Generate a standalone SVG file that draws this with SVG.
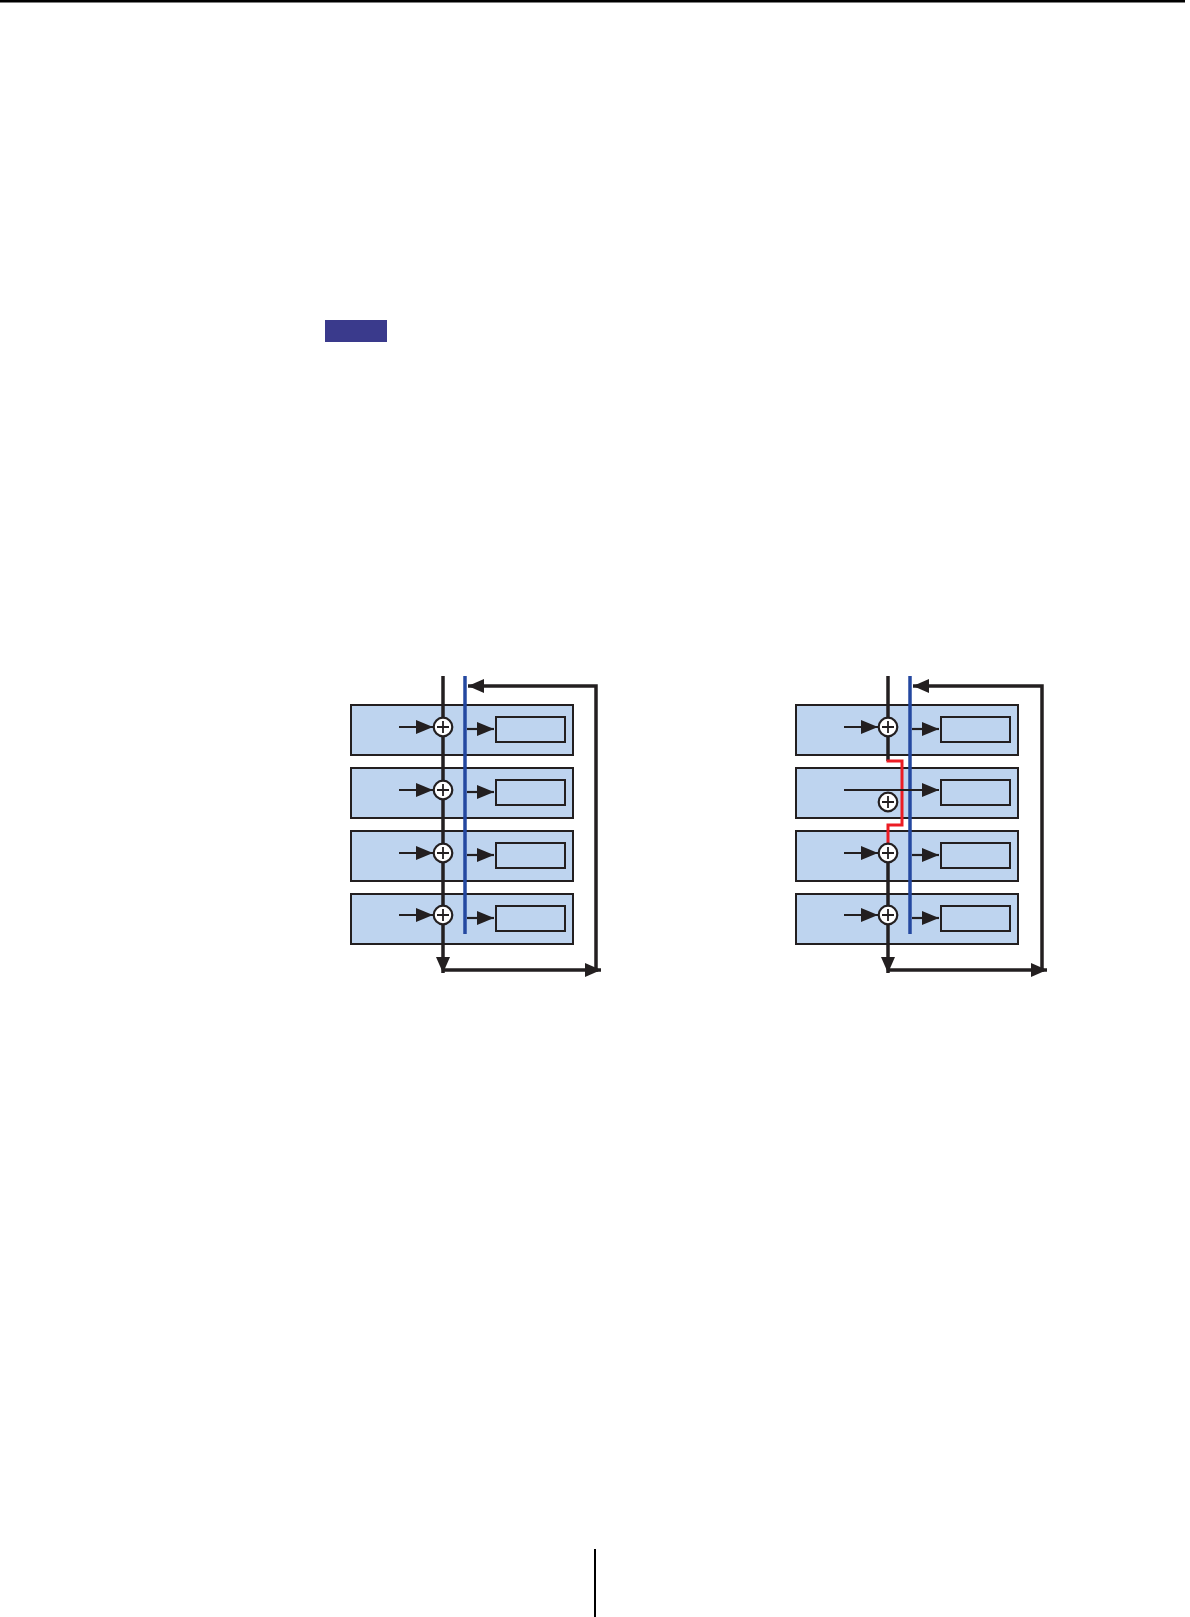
<svg xmlns="http://www.w3.org/2000/svg" width="1190" height="1617" viewBox="0 0 1190 1617">
<style>
.box{fill:#bed4ef;stroke:#231f20;stroke-width:2}
.inner{fill:#bed4ef;stroke:#231f20;stroke-width:2}
.blk{stroke:#231f20;stroke-width:3.5;fill:none}
.thin{stroke:#231f20;stroke-width:2.2;fill:none}
.blue{stroke:#2448a0;stroke-width:3.5;fill:none}
.red{stroke:#ec1c24;stroke-width:3;fill:none}
.sum{fill:#fff;stroke:#231f20;stroke-width:2.2}
.plus{stroke:#231f20;stroke-width:1.8}
</style>
<defs>
<marker id="ah" viewBox="0 0 10 10" refX="10" refY="5" markerWidth="16" markerHeight="14" markerUnits="userSpaceOnUse" orient="auto" preserveAspectRatio="none"><path d="M0,0L10,5L0,10z" fill="#231f20"/></marker>
<marker id="ahb" viewBox="0 0 10 10" refX="10" refY="5" markerWidth="17" markerHeight="14" markerUnits="userSpaceOnUse" orient="auto" preserveAspectRatio="none"><path d="M0,0L10,5L0,10z" fill="#231f20"/></marker>
<g id="sumsym"><circle r="9.3" class="sum"/><path d="M-6,0H6M0,-6V6" class="plus"/></g>
</defs>
<rect x="0" y="0" width="1185" height="2.5" fill="#000"/>
<rect id="note-badge" x="325" y="320" width="62" height="22" fill="#3a3a8c"/>
<rect x="594" y="1549" width="2" height="68" fill="#000"/>

<g id="left-diagram">
<g id="L1"><rect class="box" x="351" y="705" width="222" height="50"/><rect class="inner" x="496" y="717" width="69" height="25"/></g>
<g id="L2"><rect class="box" x="351" y="768" width="222" height="50"/><rect class="inner" x="496" y="780" width="69" height="25"/></g>
<g id="L3"><rect class="box" x="351" y="831" width="222" height="50"/><rect class="inner" x="496" y="843" width="69" height="25"/></g>
<g id="L4"><rect class="box" x="351" y="894" width="222" height="50"/><rect class="inner" x="496" y="906" width="69" height="25"/></g>
<g id="L-connectors">
<line class="blk" x1="443" y1="676" x2="443" y2="973" marker-end="url(#ah)"/>
<line class="blue" x1="465" y1="676" x2="465" y2="934"/>
<path class="blk" d="M443,970H596V686H468" marker-end="url(#ah)"/>
<line class="blk" x1="588" y1="970" x2="601" y2="970" marker-end="url(#ah)"/>
<line class="thin" x1="399" y1="727" x2="433" y2="727" marker-end="url(#ahb)"/>
<line class="thin" x1="399" y1="790" x2="433" y2="790" marker-end="url(#ahb)"/>
<line class="thin" x1="399" y1="853" x2="433" y2="853" marker-end="url(#ahb)"/>
<line class="thin" x1="399" y1="915" x2="433" y2="915" marker-end="url(#ahb)"/>
<line class="thin" x1="467" y1="729" x2="494" y2="729" marker-end="url(#ahb)"/>
<line class="thin" x1="467" y1="792" x2="494" y2="792" marker-end="url(#ahb)"/>
<line class="thin" x1="467" y1="855" x2="494" y2="855" marker-end="url(#ahb)"/>
<line class="thin" x1="467" y1="918" x2="494" y2="918" marker-end="url(#ahb)"/>
</g>
<use href="#sumsym" x="443" y="727"/>
<use href="#sumsym" x="443" y="790"/>
<use href="#sumsym" x="443" y="853"/>
<use href="#sumsym" x="443" y="915"/>
</g>

<g id="right-diagram">
<g id="R1"><rect class="box" x="796" y="705" width="222" height="50"/><rect class="inner" x="941" y="717" width="69" height="25"/></g>
<g id="R2"><rect class="box" x="796" y="768" width="222" height="50"/><rect class="inner" x="941" y="780" width="69" height="25"/></g>
<g id="R3"><rect class="box" x="796" y="831" width="222" height="50"/><rect class="inner" x="941" y="843" width="69" height="25"/></g>
<g id="R4"><rect class="box" x="796" y="894" width="222" height="50"/><rect class="inner" x="941" y="906" width="69" height="25"/></g>
<g id="R-connectors">
<line class="blk" x1="888" y1="676" x2="888" y2="761"/>
<path class="red" d="M886.5,761H902V825H888V845"/>
<line class="blk" x1="888" y1="862" x2="888" y2="973" marker-end="url(#ah)"/>
<line class="blue" x1="910" y1="676" x2="910" y2="934"/>
<path class="blk" d="M888,970H1042V686H913" marker-end="url(#ah)"/>
<line class="blk" x1="1034" y1="970" x2="1047" y2="970" marker-end="url(#ah)"/>
<line class="thin" x1="844" y1="727" x2="878" y2="727" marker-end="url(#ahb)"/>
<line class="thin" x1="844" y1="790" x2="939" y2="790" marker-end="url(#ahb)"/>
<line class="thin" x1="844" y1="853" x2="878" y2="853" marker-end="url(#ahb)"/>
<line class="thin" x1="844" y1="915" x2="878" y2="915" marker-end="url(#ahb)"/>
<line class="thin" x1="912" y1="729" x2="939" y2="729" marker-end="url(#ahb)"/>
<line class="thin" x1="912" y1="855" x2="939" y2="855" marker-end="url(#ahb)"/>
<line class="thin" x1="912" y1="918" x2="939" y2="918" marker-end="url(#ahb)"/>
</g>
<use href="#sumsym" x="888" y="727"/>
<use href="#sumsym" x="888" y="802"/>
<use href="#sumsym" x="888" y="853"/>
<use href="#sumsym" x="888" y="915"/>
</g>
</svg>
